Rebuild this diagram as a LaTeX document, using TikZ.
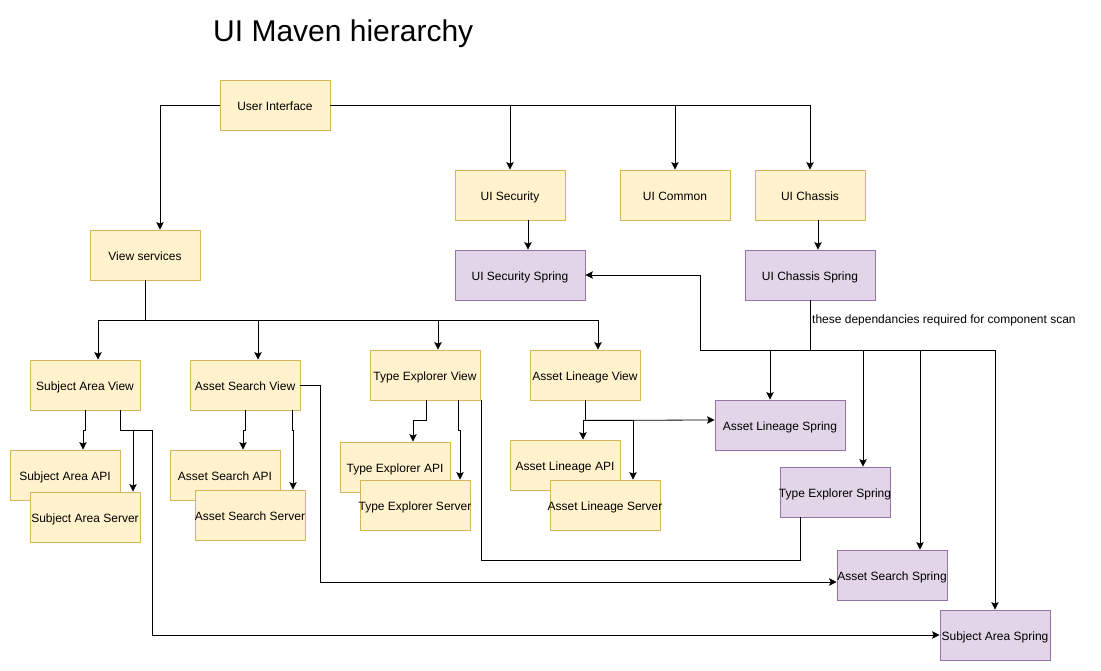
\documentclass[tikz,border=0pt]{standalone}
\usepackage{fontspec}
\setmainfont{Liberation Sans}
\usetikzlibrary{arrows.meta,calc}
\definecolor{yfill}{HTML}{FFF2CC}
\definecolor{ystroke}{HTML}{D6B656}
\definecolor{pfill}{HTML}{E1D5E7}
\definecolor{pstroke}{HTML}{9673A6}
\tikzset{
  basebox/.style={rectangle, minimum height=50pt, inner xsep=-10pt, inner ysep=0pt, text height=10.4pt, text depth=0pt, line width=0.8pt, font=\fontsize{12}{14}\selectfont},
  ybox/.style={basebox, draw=ystroke, fill=yfill, minimum width=110pt},
  pbox/.style={basebox, draw=pstroke, fill=pfill, minimum width=110pt},
  pwide/.style={pbox, minimum width=130pt},
  arr/.style={-{Stealth[length=7.5pt,width=7.5pt,inset=1.5pt]}},
  conn/.style={line width=0.8pt, black},
}
\begin{document}
\begin{tikzpicture}[x=1pt,y=-1pt]
\useasboundingbox (0,0) rectangle (1101,671);
\node[anchor=base west, inner sep=0pt, font=\fontsize{30}{36}\selectfont] (title) at (213,42) {UI Maven hierarchy};
% top level
\node[ybox] (ui) at (275,105) {User Interface};
\node[ybox] (sec) at (510,195) {UI Security};
\node[ybox] (com) at (675,195) {UI Common};
\node[ybox] (cha) at (810,195) {UI Chassis};
\node[pwide] (secs) at (520,275) {UI Security Spring};
\node[pwide] (chas) at (810,275) {UI Chassis Spring};
\node[ybox] (vs) at (145,255) {View services};
% views
\node[ybox] (sav) at (85,385) {Subject Area View};
\node[ybox] (asv) at (245,385) {Asset Search View};
\node[ybox] (tev) at (425,375) {Type Explorer View};
\node[ybox] (alv) at (585,375) {Asset Lineage View};
% api / server
\node[ybox] (saapi) at (65,475) {Subject Area API};
\node[ybox] (saserv) at (85,517) {Subject Area Server};
\node[ybox] (asapi) at (225,475) {Asset Search API};
\node[ybox] (asserv) at (250,515) {Asset Search Server};
\node[ybox] (teapi) at (395,467) {Type Explorer API};
\node[ybox] (teserv) at (415,505) {Type Explorer Server};
\node[ybox] (alapi) at (565,465) {Asset Lineage API};
\node[ybox] (alserv) at (605,505) {Asset Lineage Server};
% springs
\node[pwide] (als) at (780,425) {Asset Lineage Spring};
\node[pbox] (tes) at (835,492) {Type Explorer Spring};
\node[pbox] (ass) at (892,575) {Asset Search Spring};
\node[pbox] (sas) at (995,635) {Subject Area Spring};
% note
\node[anchor=west, inner sep=0pt, font=\fontsize{12}{14}\selectfont] (note) at (812,320) {these dependancies required for component scan};
% connectors
\begin{scope}[conn]
\draw[arr] (ui.west) -| ($(vs.north)+(15,0)$);
\draw[arr] (ui.east) -| (sec.north);
\draw[arr] (ui.east) -| (com.north);
\draw[arr] (ui.east) -| (cha.north);
\draw[arr] ($(sec.south)+(18,0)$) -- ($(secs.north)+(8,0)$);
\draw[arr] ($(cha.south)+(8,0)$) -- ($(chas.north)+(8,0)$);
% view services
\coordinate (vsj) at ($(vs.south)+(0,40)$);
\draw (vs.south) -- (vsj);
\draw[arr] (vsj) -| ($(sav.north)+(13,0)$);
\draw[arr] (vsj) -| ($(asv.north)+(13,0)$);
\draw[arr] (vsj) -| ($(tev.north)+(13,0)$);
\draw[arr] (vsj) -| ($(alv.north)+(13,0)$);
% subject area view
\draw[arr] (sav.south) -- ++(0,20) -| ($(saapi.north)+(18,0)$);
\draw[arr] ($(sav.south)+(35,0)$) -- ++(0,20) -| ($(saserv.north)+(48,0)$);
\draw[arr] ($(sav.south)+(35,0)$) -- ++(0,20) -- ++(32,0) |- (sas.west);
% asset search view
\draw[arr] (asv.south) -- ++(0,20) -| ($(asapi.north)+(18,0)$);
\draw[arr] ($(asv.south)+(47,0)$) -- ++(0,20) -| ($(asserv.north)+(43,0)$);
\draw[arr] (asv.east) -- ++(20,0) |- ($(ass.west)+(0,7)$);
% type explorer view
\draw[arr] ($(tev.south)+(1,0)$) -- ++(0,20) -| ($(teapi.north)+(18,0)$);
\draw[arr] ($(tev.south)+(33,0)$) -- ++(0,30) -| ($(teserv.north)+(45,0)$);
\draw ($(tes.south)+(-35,0)$) -- ++(0,43) -| ($(tev.south east)+(1,0)$);
% asset lineage view
\coordinate (alj) at ($(alv.south)+(0,20)$);
\draw (alv.south) -- (alj);
\draw[arr] (alj) -| ($(alapi.north)+(18,0)$);
\draw[arr] (alj) -| ($(alserv.north)+(28,0)$);
\draw[arr] (alj) -- ($(als.west)+(0,-5)$);
% ui chassis spring
\coordinate (chj) at ($(chas.south)+(0,50)$);
\draw (chas.south) -- (chj);
\draw[arr] (chj) -- ++(-110,0) |- (secs.east);
\draw[arr] (chj) -| ($(als.north)+(-10,0)$);
\draw[arr] (chj) -| ($(tes.north)+(28,0)$);
\draw[arr] (chj) -| ($(ass.north)+(28,0)$);
\draw[arr] (chj) -| (sas.north);
\end{scope}
\end{tikzpicture}
\end{document}
